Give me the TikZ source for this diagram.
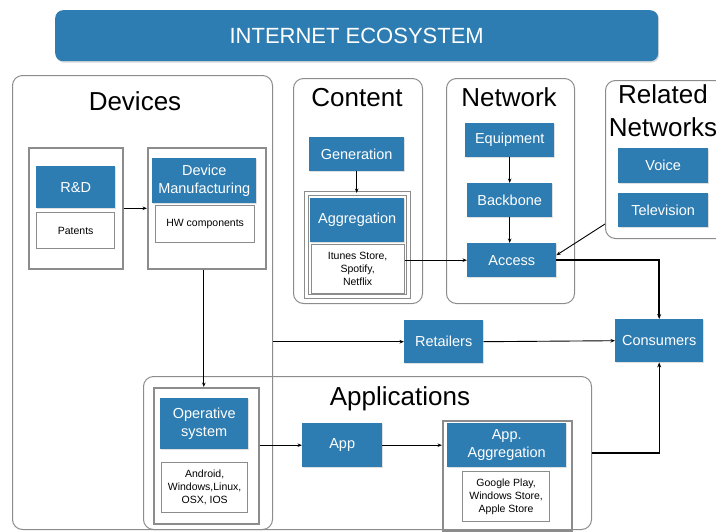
\documentclass[tikz,border=0pt]{standalone}
\usepackage{fontspec}
\setmainfont{Liberation Sans}
\usetikzlibrary{arrows.meta,shadows}
\definecolor{boxblue}{RGB}{46,125,178}
\definecolor{framegray}{RGB}{140,140,140}
\begin{document}
\begin{tikzpicture}[x=1pt,y=-1pt,
  bluebox/.style={fill=boxblue,draw=none,text=white,align=center,inner sep=0pt,anchor=north west,
    font=\fontsize{14.5}{18}\selectfont,drop shadow={opacity=0.25,shadow xshift=0.8pt,shadow yshift=-0.8pt}},
  whitebox/.style={fill=white,draw=framegray,line width=1.3pt,align=center,inner sep=0pt,anchor=north west,
    font=\fontsize{10.5}{13}\selectfont},
  groupbox/.style={draw=framegray,line width=1.6pt,inner sep=0pt,anchor=north west},
  dgroupbox/.style={draw=framegray,double=white,double distance=2.5pt,line width=0.9pt,inner sep=0pt,anchor=north west},
  areabox/.style={draw=framegray,line width=1pt,rounded corners=10pt,inner sep=0pt,anchor=north west},
  areatitle/.style={font=\fontsize{26}{33}\selectfont,align=center},
  arr/.style={draw=black,line width=0.9pt,-{Stealth[length=4.5pt,width=3.5pt]}},
  thickarr/.style={draw=black,line width=1.8pt,-{Stealth[length=5pt,width=4pt]}},
  medarr/.style={draw=black,line width=1.4pt,-{Stealth[length=5pt,width=4pt]}}
]
\useasboundingbox (0,0) rectangle (716,531);
\clip (0,0) rectangle (716,531);

% title banner
\node[fill=boxblue,rounded corners=8pt,anchor=north west,minimum width=603pt,minimum height=51pt,inner sep=0pt,
  text=white,font=\fontsize{22}{26}\selectfont,drop shadow={opacity=0.3,shadow xshift=1pt,shadow yshift=-1.5pt}]
  (banner) at (55,10) {INTERNET ECOSYSTEM};

% area boxes
\node[areabox,minimum width=260pt,minimum height=454pt] (devices) at (12,75) {};
\node[areatitle] (devt) at (135,101) {Devices};
\node[areabox,minimum width=129pt,minimum height=225pt] (content) at (293,78) {};
\node[areatitle] (cont) at (357,98) {Content};
\node[areabox,minimum width=128pt,minimum height=225pt] (network) at (446,78) {};
\node[areatitle] (nett) at (509,97) {Network};
\node[areabox,fill=white,minimum width=125pt,minimum height=158pt] (relnet) at (605,80) {};
\node[areatitle] (relt) at (663,111) {Related\\Networks};
\node[areabox,minimum width=448pt,minimum height=153pt] (apps) at (143,376) {};
\node[areatitle] (appt) at (400,399) {Applications};

% devices
\node[groupbox,minimum width=94pt,minimum height=121pt] (rdg) at (28,147) {};
\node[bluebox,minimum width=79pt,minimum height=42pt] (rd) at (36,166) {R\&D};
\node[whitebox,minimum width=78pt,minimum height=36pt] (patents) at (36,212) {Patents};
\node[groupbox,minimum width=118pt,minimum height=121pt] (dmg) at (147,147) {};
\node[bluebox,minimum width=104pt,minimum height=45pt] (dm) at (152,158) {Device\\Manufacturing};
\node[whitebox,minimum width=99pt,minimum height=37pt] (hw) at (155,205) {HW components};

% content
\node[bluebox,minimum width=95pt,minimum height=34pt] (gen) at (309,137) {Generation};
\node[dgroupbox,minimum width=102pt,minimum height=103pt] (aggg) at (306,193) {};
\node[bluebox,minimum width=94pt,minimum height=44pt] (agg) at (310,198) {Aggregation};
\node[whitebox,minimum width=93pt,minimum height=49pt] (itunes) at (310.5,243.5) {Itunes Store,\\Spotify,\\Netflix};

% network
\node[bluebox,minimum width=89pt,minimum height=34pt] (equip) at (465,123) {Equipment};
\node[bluebox,minimum width=85pt,minimum height=34pt] (backbone) at (467,183) {Backbone};
\node[bluebox,minimum width=89pt,minimum height=34pt] (access) at (467,243) {Access};

% related networks
\node[bluebox,minimum width=90pt,minimum height=35pt] (voice) at (618,148) {Voice};
\node[bluebox,minimum width=90pt,minimum height=34pt] (tv) at (618,193) {Television};

% middle
\node[bluebox,minimum width=79pt,minimum height=43pt] (retailers) at (404,320) {Retailers};
\node[bluebox,minimum width=88pt,minimum height=43pt] (consumers) at (615,319) {Consumers};

% applications
\node[groupbox,minimum width=105pt,minimum height=136pt] (osg) at (153,387) {};
\node[bluebox,minimum width=88pt,minimum height=51pt] (os) at (160,398) {Operative\\system};
\node[whitebox,minimum width=86pt,minimum height=50pt] (android) at (161,462) {Android,\\Windows,Linux,\\OSX, IOS};
\node[bluebox,minimum width=80pt,minimum height=44pt] (app) at (302,423) {App};
\node[groupbox,minimum width=129pt,minimum height=110pt] (appaggg) at (442,420) {};
\node[bluebox,minimum width=119pt,minimum height=44pt] (appagg) at (447,423) {App.\\Aggregation};
\node[whitebox,minimum width=87pt,minimum height=50pt] (gp) at (462,471) {Google Play,\\Windows Store,\\Apple Store};

% connectors
\coordinate (relout) at ([yshift=15pt]relnet.south west);
\draw[arr] (rdg.east) -- (dmg.west);
\draw[arr] ([xshift=-3pt]dmg.south) -- ([xshift=-3pt]dmg.south |- osg.north);
\draw[arr] (gen.south) -- (gen.south |- aggg.north);
\draw[arr] (access.west -| itunes.east) -- (access.west);
\draw[arr] (equip.south) -- (equip.south |- backbone.north);
\draw[arr] (backbone.south) -- (backbone.south |- access.north);
\draw[arr] (relout) -- ([yshift=5pt]access.east);
\draw[thickarr] (access.east) -| (consumers.north);
\draw[arr] (retailers.west -| devices.east) -- (retailers.west);
\draw[arr] (retailers.east) -- (consumers.west);
\draw[arr] (app.west -| osg.east) -- (app.west);
\draw[arr] (app.east) -- (app.east -| appaggg.west);
\draw[medarr] (apps.east) -| (consumers.south);
\end{tikzpicture}
\end{document}
